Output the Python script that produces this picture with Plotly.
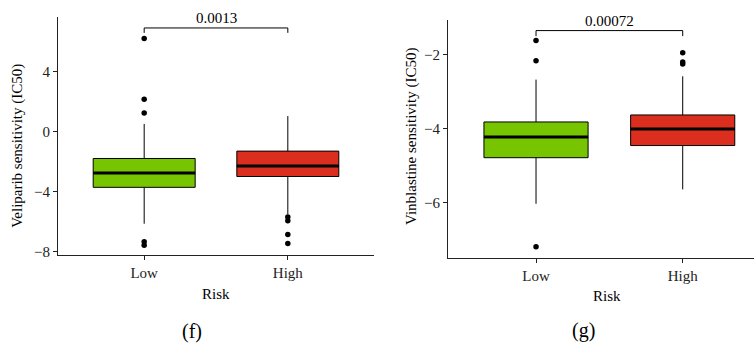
import plotly.graph_objects as go

W, H = 754, 347

categories = ["Low", "High"]
box_colors = ["#76C500", "#DC2E1E"]

# Panel (f): Veliparib
f_q1 = [-3.72, -3.00]
f_median = [-2.76, -2.30]
f_q3 = [-1.80, -1.31]
f_lower = [-6.14, -5.51]
f_upper = [0.50, 1.02]
f_outliers = [[6.18, 2.14, 1.22, -7.34, -7.57], [-5.69, -5.95, -6.85, -7.46]]
f_pvalue = "0.0013"
f_bracket_y = [6.56, 6.885]
f_ticks = [4, 0, -4, -8]

# Panel (g): Vinblastine
g_q1 = [-4.79, -4.46]
g_median = [-4.23, -4.01]
g_q3 = [-3.82, -3.63]
g_lower = [-6.04, -5.65]
g_upper = [-2.67, -2.58]
g_outliers = [[-1.61, -2.16, -7.21], [-1.94, -2.19, -2.25]]
g_pvalue = "0.00072"
g_bracket_y = [-1.49, -1.34]
g_ticks = [-2, -4, -6]

BOX_W = 0.71
FONT = "Liberation Serif"
AXC = "#222222"

fig = go.Figure()

panels = [
    dict(xa="x", ya="y", q1=f_q1, med=f_median, q3=f_q3, lo=f_lower, up=f_upper,
         out=f_outliers, p=f_pvalue, by=f_bracket_y),
    dict(xa="x2", ya="y2", q1=g_q1, med=g_median, q3=g_q3, lo=g_lower, up=g_upper,
         out=g_outliers, p=g_pvalue, by=g_bracket_y),
]

for pn in panels:
    for i, cat in enumerate(categories):
        fig.add_trace(go.Box(
            x=[i], q1=[pn["q1"][i]], median=[pn["med"][i]], q3=[pn["q3"][i]],
            lowerfence=[pn["lo"][i]], upperfence=[pn["up"][i]],
            width=BOX_W, whiskerwidth=0, fillcolor=box_colors[i],
            line=dict(color="black", width=1), boxpoints=False,
            xaxis=pn["xa"], yaxis=pn["ya"], showlegend=False, hoverinfo="skip",
        ))
        fig.add_trace(go.Scatter(
            x=[i - BOX_W / 2, i + BOX_W / 2], y=[pn["med"][i]] * 2, mode="lines",
            line=dict(color="black", width=3), xaxis=pn["xa"], yaxis=pn["ya"],
            showlegend=False, hoverinfo="skip",
        ))
        fig.add_trace(go.Scatter(
            x=[i] * len(pn["out"][i]), y=pn["out"][i], mode="markers",
            marker=dict(color="black", size=5.5), xaxis=pn["xa"], yaxis=pn["ya"],
            showlegend=False, hoverinfo="skip",
        ))
    lo_b, hi_b = pn["by"]
    fig.add_trace(go.Scatter(
        x=[0, 0, 1, 1], y=[lo_b, hi_b, hi_b, lo_b], mode="lines",
        line=dict(color="black", width=1), xaxis=pn["xa"], yaxis=pn["ya"],
        showlegend=False, hoverinfo="skip",
    ))
    fig.add_annotation(x=0.5, y=hi_b, xref=pn["xa"], yref=pn["ya"], text=pn["p"],
                       showarrow=False, yanchor="bottom", yshift=0,
                       font=dict(family=FONT, size=15, color="black"))

def px_x(p):
    return p / W

def px_y(p):
    return 1 - p / H

common_x = dict(showgrid=False, zeroline=False, showline=True, linecolor=AXC, linewidth=1,
                ticks="outside", ticklen=4, tickcolor=AXC, tickvals=[0, 1], ticktext=categories,
                tickfont=dict(family=FONT, size=15, color="#222"))
common_y = dict(showgrid=False, zeroline=False, showline=True, linecolor=AXC, linewidth=1,
                ticks="outside", ticklen=4, tickcolor=AXC,
                tickfont=dict(family=FONT, size=15, color="#222"))

fig.update_layout(
    width=W, height=H, margin=dict(l=0, r=0, t=0, b=0),
    paper_bgcolor="white", plot_bgcolor="white",
    xaxis=dict(common_x, domain=[px_x(58), px_x(374)], range=[-0.6, 1.6], anchor="y"),
    yaxis=dict(common_y, domain=[px_y(259), px_y(17)], range=[-8.24, 7.63],
               tickvals=f_ticks, anchor="x"),
    xaxis2=dict(common_x, domain=[px_x(448), 1.0], range=[-0.6, 1.486], anchor="y2"),
    yaxis2=dict(common_y, domain=[px_y(261.7), px_y(20)], range=[-7.51, -1.045],
                tickvals=g_ticks, anchor="x2"),
)

texts = [
    ("Risk", 216, 298, 0, 15),
    ("Risk", 607, 300, 0, 15),
    ("Veliparib sensitivity (IC50)", 18, 148, -90, 15),
    ("Vinblastine sensitivity (IC50)", 412, 139, -90, 15),
    ("(f)", 192, 336, 0, 20),
    ("(g)", 583, 335, 0, 20),
]
for t, x, y, ang, sz in texts:
    fig.add_annotation(x=px_x(x), y=px_y(y), xref="paper", yref="paper", text=t,
                       showarrow=False, textangle=ang, xanchor="center", yanchor="middle",
                       font=dict(family=FONT, size=sz, color="black"))

fig.write_html("out.html")
